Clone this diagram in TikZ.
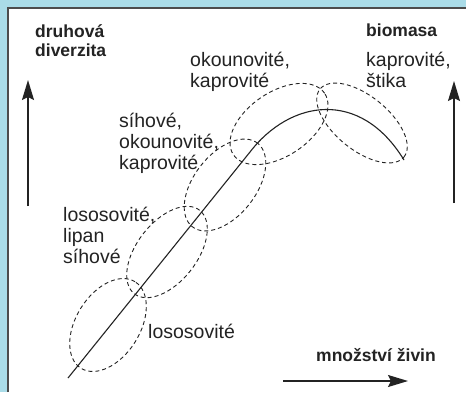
\documentclass[tikz,border=0pt]{standalone}
\usepackage{fontspec}
\setmainfont{Liberation Sans}
\usetikzlibrary{arrows.meta}
\definecolor{bgblue}{RGB}{170,220,232}
\definecolor{ink}{RGB}{35,35,35}
\tikzset{
  axisarrow/.style={draw=ink, line width=1.4pt, -{Stealth[length=20pt,width=12pt,inset=3pt]}},
  curveline/.style={draw=ink, line width=1.1pt},
  ell/.style={draw=ink, line width=0.9pt, dash pattern=on 4pt off 3pt},
  lbl/.style={inner sep=0pt, anchor=north west, align=left, text=ink, font=\fontsize{19.5}{20.8}\selectfont},
  blbl/.style={inner sep=0pt, anchor=north west, align=left, text=ink, font=\bfseries\fontsize{17.5}{19}\selectfont},
}
\begin{document}
\begin{tikzpicture}[x=1pt,y=-1pt]
\useasboundingbox (0,0) rectangle (466,392);
\fill[bgblue] (0,0) rectangle (466,392);
\fill[white] (8,8) rectangle (466,392);
\draw[gray!60!black, line width=1.6pt] (8,392) -- (8,8) -- (466,8);

% axes
\coordinate (la0) at (28,206);
\coordinate (la1) at (28,80);
\coordinate (ra0) at (454,203);
\coordinate (ra1) at (454,81);
\coordinate (ba0) at (283,381);
\coordinate (ba1) at (408,381);
\draw[axisarrow] (la0) -- (la1);
\draw[axisarrow] (ra0) -- (ra1);
\draw[axisarrow] (ba0) -- (ba1);

% curve
\coordinate (c0) at (68,378);
\coordinate (c1) at (250,152);
\coordinate (c2) at (290,100);
\coordinate (c3) at (360,88);
\coordinate (c4) at (404,160);
\draw[curveline] (c0) -- (c1) .. controls (c2) and (c3) .. (c4);

% ellipses
\coordinate (e1) at (108,325);
\coordinate (e2) at (167,252);
\coordinate (e3) at (225,185);
\coordinate (e4) at (279,124);
\coordinate (e5) at (362,123);
\draw[ell, rotate around={58:(e1)}] (e1) ellipse [x radius=51pt, y radius=32pt];
\draw[ell, rotate around={52:(e2)}] (e2) ellipse [x radius=53pt, y radius=30pt];
\draw[ell, rotate around={52:(e3)}] (e3) ellipse [x radius=53pt, y radius=31pt];
\draw[ell, rotate around={34:(e4)}] (e4) ellipse [x radius=55pt, y radius=32pt];
\draw[ell, rotate around={-39:(e5)}] (e5) ellipse [x radius=54pt, y radius=27pt];

% labels
\node[blbl] (tdiv) at (35,24) {druhová\\diverzita};
\node[blbl] (tbio) at (366,24) {biomasa};
\node[blbl] (tziv) at (316,348) {množství živin};
\node[lbl] (tks) at (366,52) {kaprovité,\\štika};
\node[lbl] (tok) at (190,52) {okounovité,\\kaprovité};
\node[lbl] (tsok) at (119,113) {síhové,\\okounovité,\\kaprovité};
\node[lbl] (tll) at (63,207) {lososovité,\\lipan\\síhové};
\node[lbl] (tl) at (148,324) {lososovité};
\end{tikzpicture}
\end{document}
